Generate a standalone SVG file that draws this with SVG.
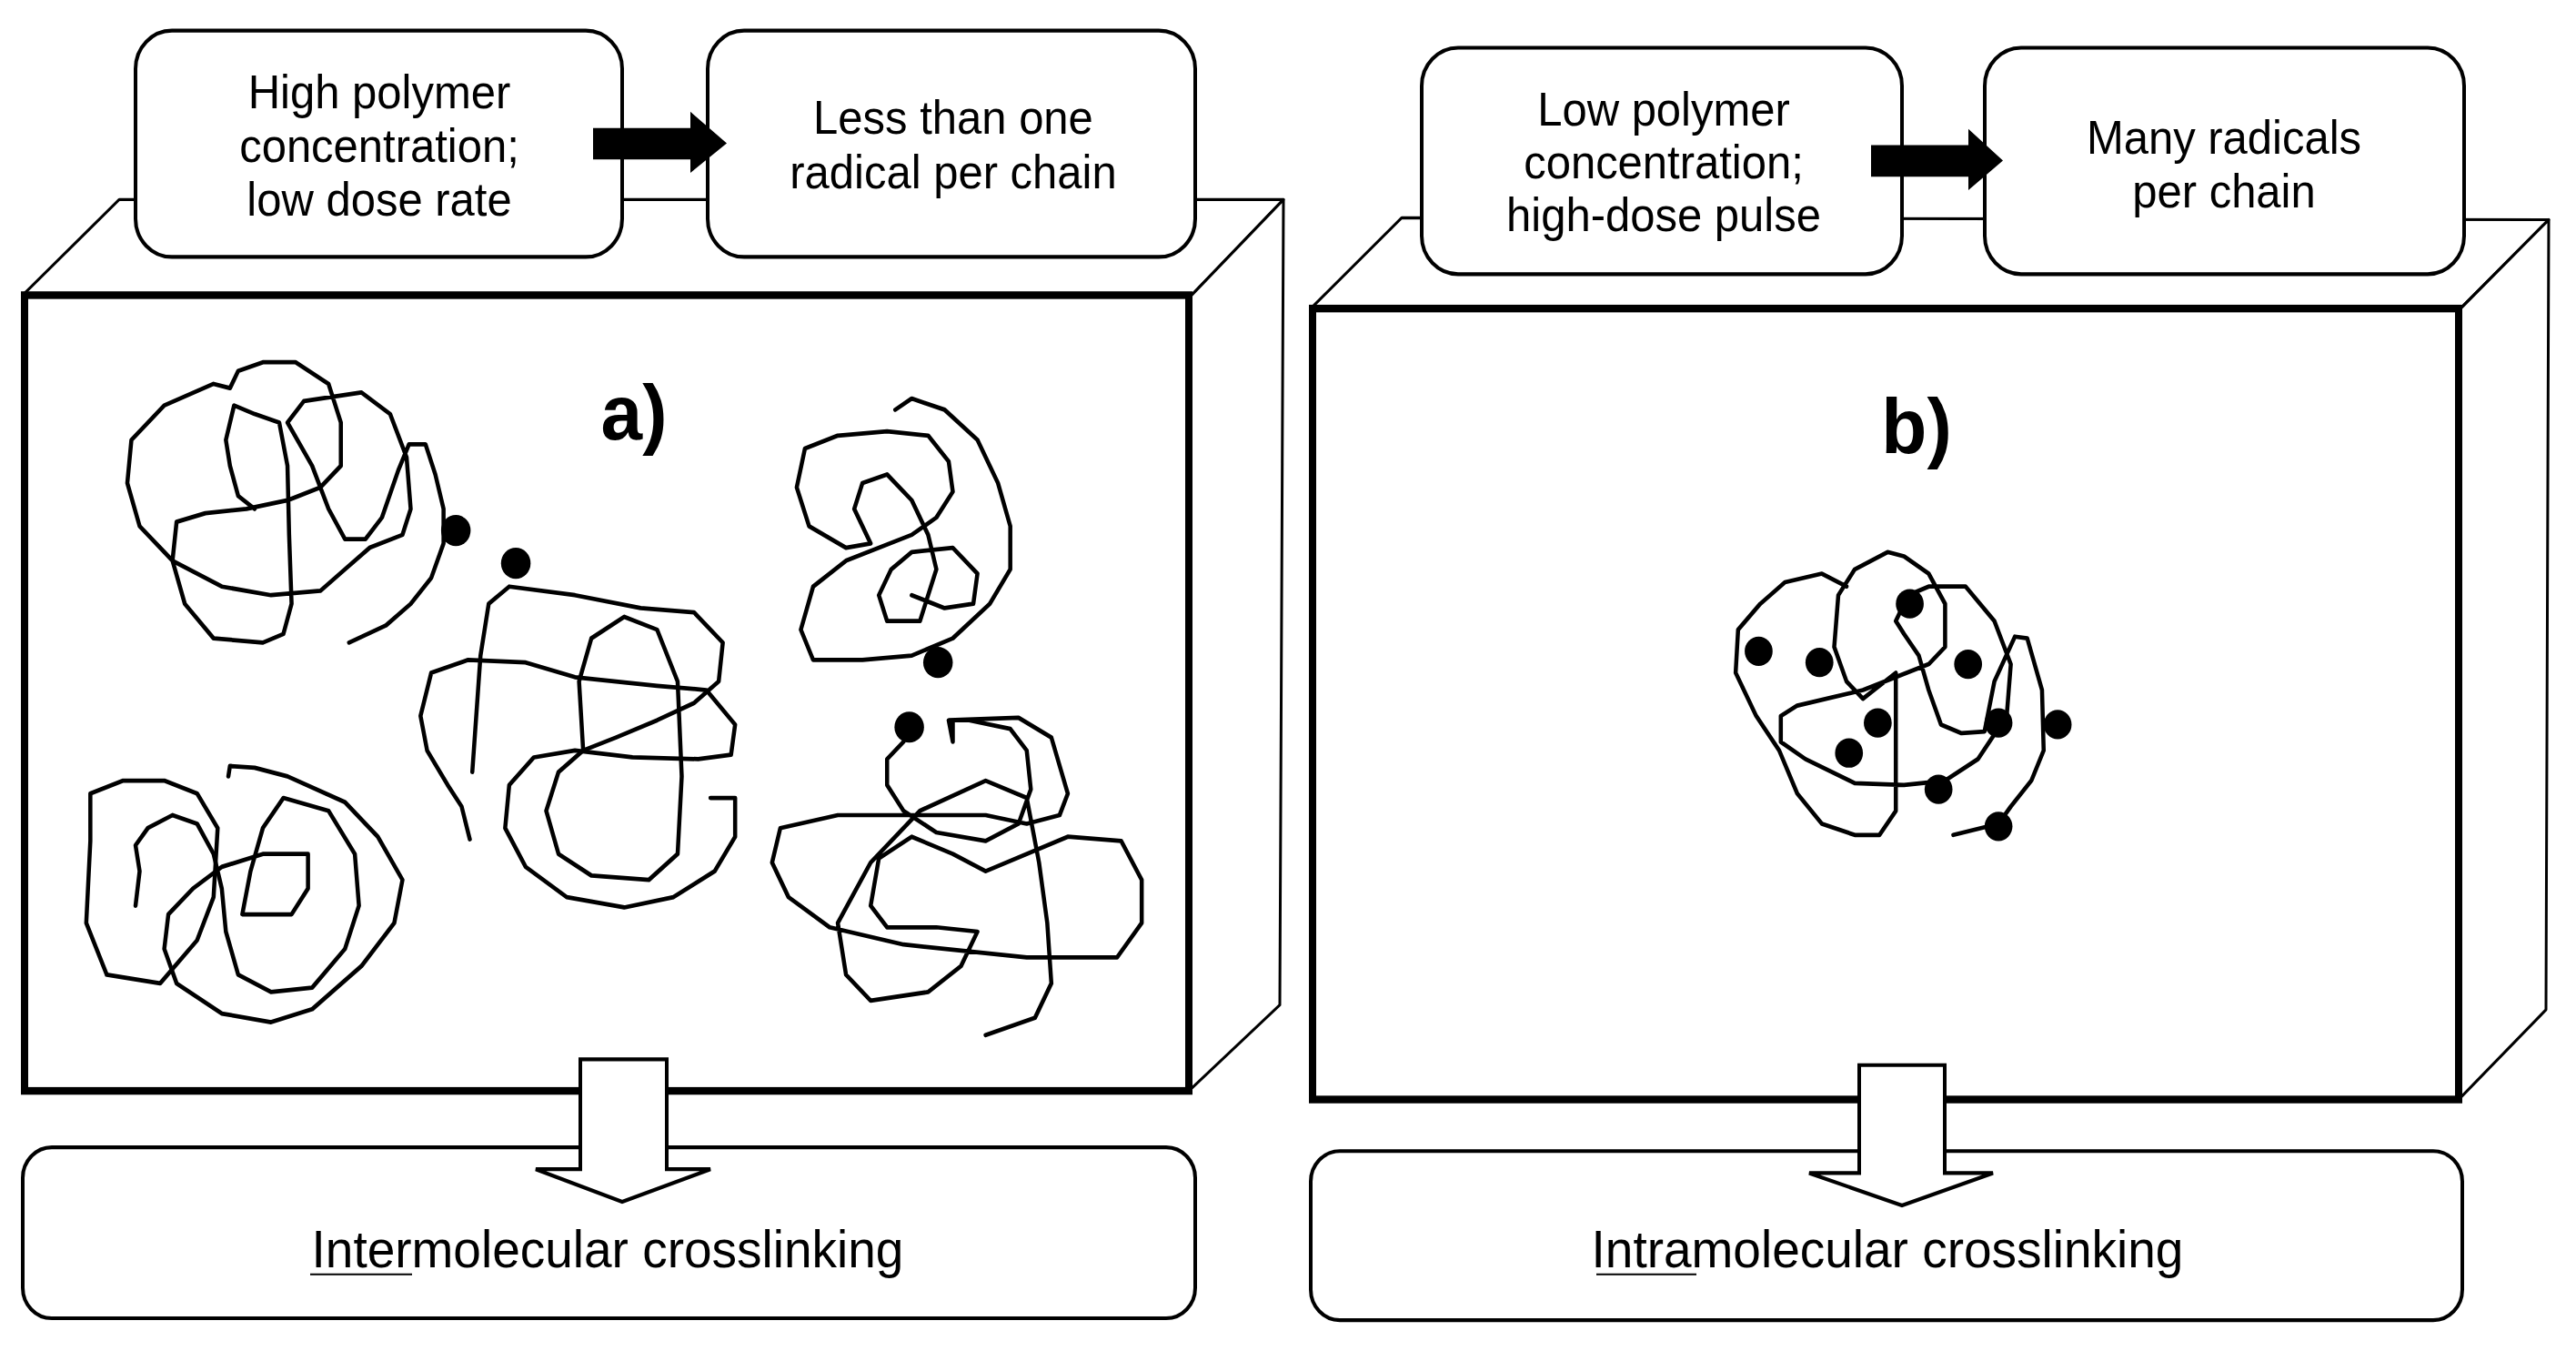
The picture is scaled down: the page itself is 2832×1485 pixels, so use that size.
<svg xmlns="http://www.w3.org/2000/svg" width="2832" height="1485" viewBox="0 0 2832 1485">
<style>
.box{fill:#fff;stroke:#000;stroke-width:4}
.face{fill:#fff;stroke:#000;stroke-width:3;stroke-linejoin:round}
.front{fill:#fff;stroke:#000;stroke-width:8}
.t{font-family:"Liberation Sans",Arial,sans-serif;font-size:49px;text-anchor:middle;fill:#000}
.b{font-family:"Liberation Sans",Arial,sans-serif;font-size:55px;text-anchor:middle;fill:#000}
.lab{font-family:"Liberation Sans",Arial,sans-serif;font-size:82px;font-weight:bold;text-anchor:middle;fill:#000}
.c{fill:none;stroke:#000;stroke-width:5;stroke-linejoin:round;stroke-linecap:round}
.hollow{fill:#fff;stroke:#000;stroke-width:4}
</style>
<rect width="2832" height="1485" fill="#fff"/>
<g transform="scale(1,1.05)">
<g id="panelA">
<polygon class="face" points="27,307 131,209 1411,209 1307,312"/>
<polygon class="face" points="1307,312 1411,209 1407,1052 1307,1142"/>
<rect class="front" x="27" y="309" width="1280" height="833"/>
</g>
<g id="panelB">
<polygon class="face" points="1443,321 1541,228 2802,230 2703,325"/>
<polygon class="face" points="2703,325 2802,230 2799,1057 2703,1151"/>
<rect class="front" x="1443" y="323" width="1260" height="828"/>
</g>
<g id="boxA1"><rect class="box" x="149" y="32" width="535" height="237" rx="40"/>
<text class="t" x="417" y="113">High polymer</text><text class="t" x="417" y="170">concentration;</text><text class="t" x="417" y="226">low dose rate</text></g>
<g id="boxA2"><rect class="box" x="778" y="32" width="536" height="237" rx="40"/>
<text class="t" x="1048" y="140">Less than one</text><text class="t" x="1048" y="197">radical per chain</text></g>
<g id="boxB1"><rect class="box" x="1563" y="50" width="528" height="237" rx="40"/>
<text class="t" x="1829" y="131">Low polymer</text><text class="t" x="1829" y="187">concentration;</text><text class="t" x="1829" y="242">high-dose pulse</text></g>
<g id="boxB2"><rect class="box" x="2182" y="50" width="527" height="237" rx="40"/>
<text class="t" x="2445" y="161">Many radicals</text><text class="t" x="2445" y="217">per chain</text></g>
<g id="resultA"><rect class="box" x="25" y="1201" width="1289" height="179" rx="32"/>
<text class="b" x="668" y="1327">Intermolecular crosslinking</text>
<line x1="341" y1="1334" x2="453" y2="1334" stroke="#000" stroke-width="2"/></g>
<g id="resultB"><rect class="box" x="1441" y="1205" width="1266" height="177" rx="32"/>
<text class="b" x="2075" y="1327">Intramolecular crosslinking</text>
<line x1="1755" y1="1334" x2="1865" y2="1334" stroke="#000" stroke-width="2"/></g>
<g id="labels"><text class="lab" x="697" y="460">a)</text><text class="lab" x="2107" y="474">b)</text></g>
<g id="connectors">
<polygon points="652,134 759,134 759,117 799,150 759,181 759,167 652,167" fill="#000"/>
<polygon points="2057,152 2164,152 2164,135 2202,168 2164,199 2164,185 2057,185" fill="#000"/>
<polygon class="hollow" points="638,1109 733,1109 733,1224 781,1224 684,1258 589,1224 638,1224"/>
<polygon class="hollow" points="2044,1115 2138,1115 2138,1228 2191,1228 2091,1262 1989,1228 2044,1228"/>
</g>
<g id="chainsA" transform="scale(0.903)">
<polyline class="c" points="425,745 470,725 500,700 525,670 540,630 540,590 530,550 518,515 498,515 485,545 465,600 445,625 420,625 400,590 380,540 350,490 370,465 440,455 475,480 495,530 500,590 490,620 450,635 420,660 390,685 330,690 270,680 210,650 170,610 155,560 160,510 200,470 260,445 280,450 290,430 320,420 360,420 400,445 415,490 415,540 390,565 350,580 300,590 250,595 215,605 210,650 225,700 260,740 320,745 345,735 355,700 352,620 350,540 340,490 310,480 285,470 275,510 280,540 290,575 310,590"/>
<polyline class="c" points="572,973 562,935 545,910 520,870 512,830 525,780 570,765 640,768 700,785 800,795 860,800 895,840 890,875 850,880 770,878 700,870 650,878 620,910 615,960 640,1005 690,1040 760,1052 820,1040 870,1010 895,970 895,925 865,925"/>
<polyline class="c" points="575,895 585,760 595,700 620,680 700,690 780,705 845,710 880,745 875,790 845,815 800,835 750,855 710,870 680,895 665,940 680,990 720,1015 790,1020 825,990 830,900 825,790 800,730 760,715 720,740 705,790 710,870"/>
<polyline class="c" points="1090,475 1110,462 1150,475 1190,510 1215,560 1230,610 1230,660 1205,700 1160,740 1110,760 1050,765 990,765 975,730 990,680 1030,650 1110,620 1140,600 1160,570 1155,535 1130,505 1080,500 1020,505 980,520 970,565 985,610 1030,635 1060,630 1040,590 1050,560 1080,550 1110,580 1130,620 1140,660 1120,720 1080,720 1070,690 1085,660 1110,640 1160,635 1190,665 1185,700 1150,705 1110,690"/>
<polyline class="c" points="1107,843 1100,860 1080,880 1080,910 1100,940 1140,965 1200,975 1240,955 1255,915 1250,870 1230,845 1180,835 1160,835 1160,860 1155,835 1240,832 1280,855 1300,920 1290,945 1250,955 1200,945 1020,945 950,960 940,1000 960,1040 1010,1075 1100,1095 1250,1110 1360,1110 1390,1070 1390,1020 1365,975 1300,970 1200,1010 1160,990 1110,970 1070,995 1060,1050 1080,1075 1140,1075 1190,1080 1170,1120 1130,1150 1060,1160 1030,1130 1020,1070 1060,1000 1120,940 1200,905 1250,925 1265,1000 1275,1070 1280,1140 1260,1180 1200,1200"/>
<polyline class="c" points="165,1050 170,1010 165,980 180,960 210,945 240,955 260,990 270,1030 275,1080 290,1130 330,1150 380,1145 420,1100 437,1050 432,990 400,940 345,925 320,960 305,1010 295,1060 355,1060 375,1030 375,990 320,990 270,1005 235,1030 205,1060 200,1100 215,1140 270,1175 330,1185 380,1170 440,1120 480,1070 490,1020 460,970 420,930 350,900 310,890 280,888 278,900"/>
<polyline class="c" points="130,1130 105,1070 110,975 110,920 150,905 200,905 240,920 265,960 260,1040 240,1090 195,1140 130,1130"/>
<circle cx="555" cy="615" r="18"/><circle cx="628" cy="653" r="18"/><circle cx="1142" cy="768" r="18"/><circle cx="1107" cy="843" r="18"/>
</g>
<g id="chainB" transform="translate(1416,0) scale(0.903)">
<polyline class="c" points="810,968 865,955 880,935 905,905 920,870 918,800 900,740 885,738 860,790 848,848 820,850 795,840 780,800 768,760 750,735 740,720 755,690 780,680 825,680 860,720 880,770 875,830 840,880 800,905 750,910 690,908 630,880 600,860 600,830 620,818 700,800 780,770 800,750 800,700 780,665 750,645 730,640 690,660 670,690 665,750 680,790 700,810 740,780 740,900 740,940 720,968 690,968 650,955 620,920 598,870 570,830 545,780 548,730 575,700 605,675 650,665 680,680"/>
<circle cx="573" cy="755" r="17"/><circle cx="647" cy="768" r="17"/><circle cx="757" cy="700" r="17"/><circle cx="828" cy="770" r="17"/><circle cx="718" cy="838" r="17"/><circle cx="683" cy="873" r="17"/><circle cx="865" cy="838" r="17"/><circle cx="937" cy="840" r="17"/><circle cx="792" cy="915" r="17"/><circle cx="865" cy="958" r="17"/>
</g>
</g>
</svg>
